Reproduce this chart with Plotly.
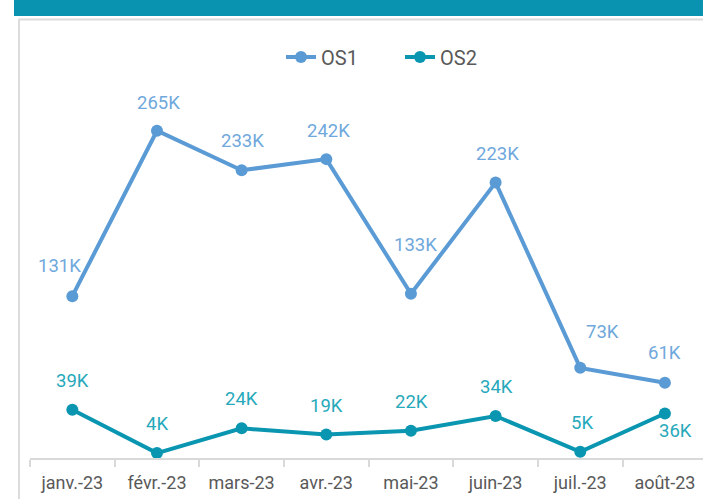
import plotly.graph_objects as go

months = ["janv.-23", "févr.-23", "mars-23", "avr.-23", "mai-23", "juin-23", "juil.-23", "août-23"]
os1 = [131, 265, 233, 242, 133, 223, 73, 61]
os2 = [39, 4, 24, 19, 22, 34, 5, 36]

# label offsets in pixels (x, y) relative to each point
os1_dx = [-13, 2, 1, 2, 5, 2, 22, 0]
os1_dy = [30, 28, 29, 28, 49, 29, 36, 30]
os2_dx = [0, 0, 0, 0, 1, 1, 2, 11]
os2_dy = [29, 29, 29, 29, 29, 29, 29, -17]

C1 = "#5b9bd5"
C2 = "#0a96b0"
L1 = "#6fa8dc"
L2 = "#27a9bb"

W, H = 703, 499
left, right, top, bottom = 30, 703, 80, 458
ymax = (bottom - top) / 1.235

fig = go.Figure()
fig.add_trace(go.Scatter(x=months, y=os1, name="OS1", mode="lines+markers",
                         line=dict(color=C1, width=4), marker=dict(size=12, color=C1)))
fig.add_trace(go.Scatter(x=months, y=os2, name="OS2", mode="lines+markers",
                         line=dict(color=C2, width=4), marker=dict(size=12, color=C2)))

ann = []
for m, v, dx, dy in zip(months, os1, os1_dx, os1_dy):
    ann.append(dict(x=m, y=v, text=f"{v}K", showarrow=False, xshift=dx, yshift=dy,
                    font=dict(color=L1, size=18.5, family="Roboto")))
for m, v, dx, dy in zip(months, os2, os2_dx, os2_dy):
    ann.append(dict(x=m, y=v, text=f"{v}K", showarrow=False, xshift=dx, yshift=dy,
                    font=dict(color=L2, size=18.5, family="Roboto")))

def px(x):
    return (x - left) / (right - left)

def py(y):
    return (bottom - y) / (bottom - top)

shapes = [
    dict(type="rect", xref="paper", yref="paper", x0=px(14), x1=px(710), y0=py(16), y1=py(-5),
         fillcolor="#0a93b0", line=dict(width=0), layer="above"),
    dict(type="line", xref="paper", yref="paper", x0=px(18), x1=px(710), y0=py(19.5), y1=py(19.5),
         line=dict(color="#dcdcdc", width=2)),
    dict(type="line", xref="paper", yref="paper", x0=px(19), x1=px(19), y0=py(19.5), y1=py(510),
         line=dict(color="#dcdcdc", width=2)),
]

fig.update_layout(
    width=W, height=H,
    margin=dict(l=left, r=W - right, t=top, b=H - bottom, pad=0),
    paper_bgcolor="white", plot_bgcolor="white",
    font=dict(family="Roboto", color="#595959"),
    showlegend=True,
    legend=dict(orientation="h", x=px(281), xanchor="left", y=py(57), yanchor="middle",
                entrywidth=74, entrywidthmode="pixels",
                font=dict(size=20, color="#595959", family="Roboto")),
    annotations=ann,
    shapes=shapes,
    xaxis=dict(range=[-0.5, 7.45], showgrid=False, showline=True, linecolor="#d9d9d9", linewidth=1.5,
               ticks="outside", tickson="boundaries", ticklen=7, tickcolor="#d9d9d9", tickwidth=1.5,
               ticklabelstandoff=8,
               tickfont=dict(size=18, color="#595959", family="Roboto"), zeroline=False),
    yaxis=dict(range=[0, ymax], showgrid=False, showticklabels=False, zeroline=False, showline=False),
)
fig.write_html("out.html", config={"displayModeBar": False},
               post_script="document.body.style.margin='0';document.body.style.overflow='hidden';")
